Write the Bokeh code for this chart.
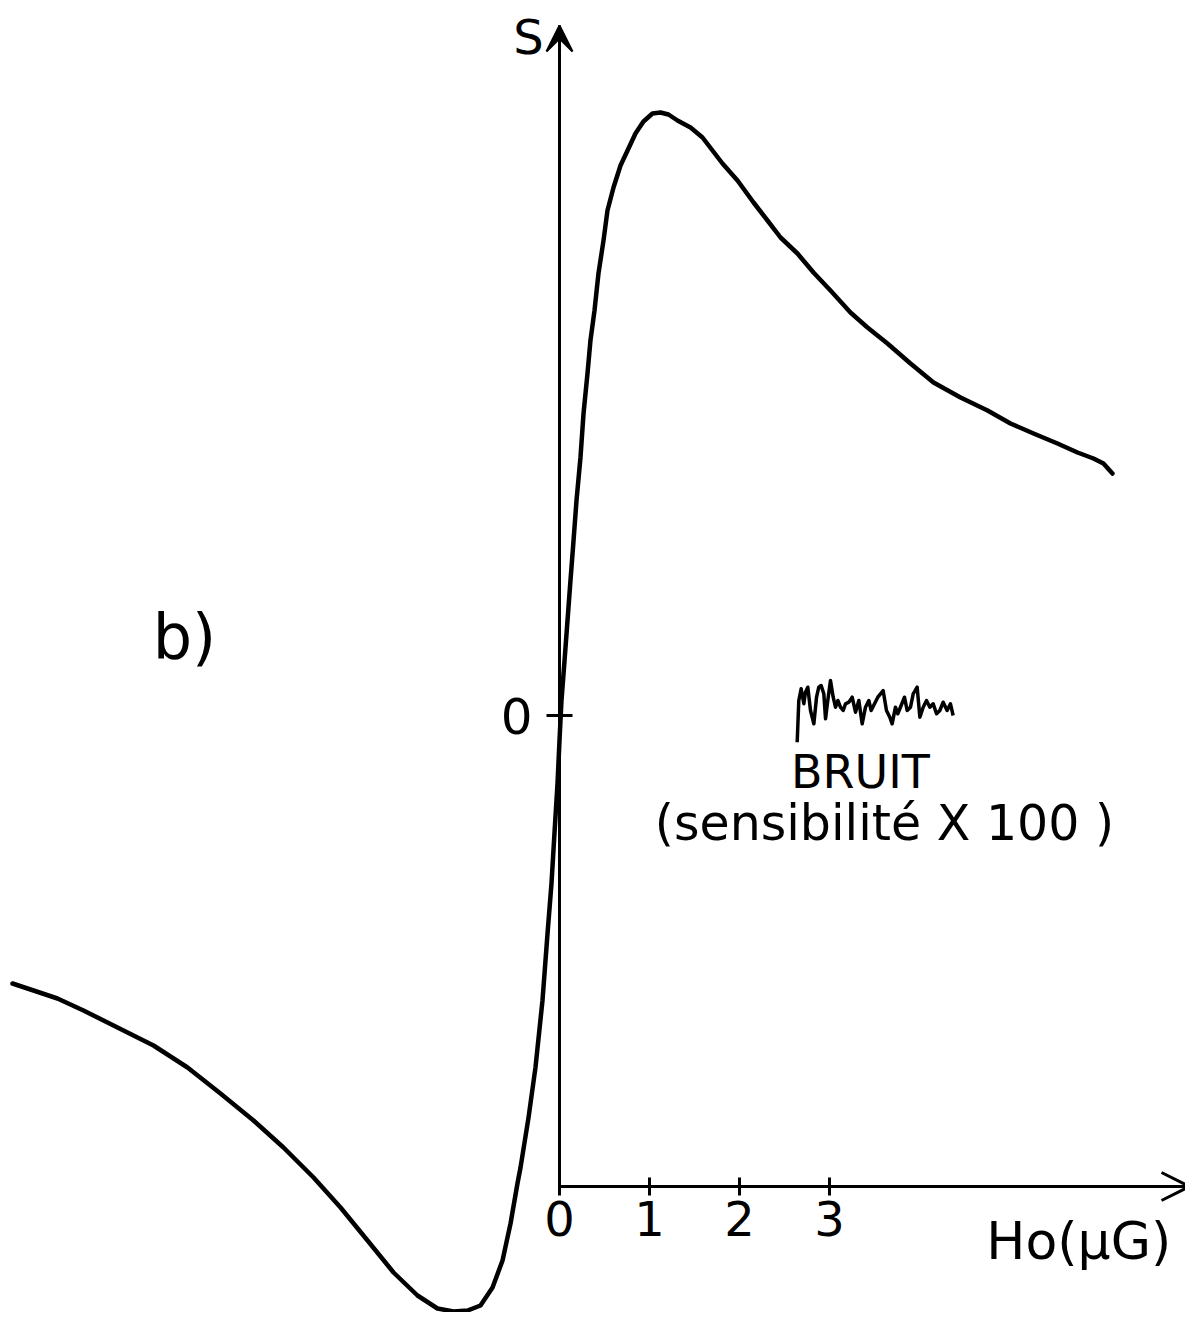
from bokeh.plotting import figure
from bokeh.models import Range1d, LinearAxis, FixedTicker, Arrow, VeeHead, OpenHead, Label
from bokeh.embed import file_html
from bokeh.resources import INLINE

# ---- data (Ho in µG, S in arbitrary units) ----
curve_h = [-6.078, -5.844, -5.578, -5.289, -4.911, -4.511, -4.133, -3.767, -3.400, -3.067,
           -2.733, -2.433, -2.133, -1.844, -1.578, -1.356, -1.178, -1.022, -0.878, -0.744,
           -0.633, -0.544, -0.467, -0.433, -0.344, -0.267, -0.189, -0.133, -0.089, -0.056,
           -0.022, 0.000, 0.022, 0.056, 0.089, 0.122, 0.156, 0.189, 0.233, 0.267,
           0.311, 0.344, 0.389, 0.433, 0.489, 0.533, 0.600, 0.678, 0.756, 0.844,
           0.933, 1.033, 1.122, 1.211, 1.311, 1.456, 1.589, 1.700, 1.811, 1.978,
           2.156, 2.311, 2.456, 2.644, 2.822, 3.011, 3.233, 3.422, 3.644, 3.900,
           4.156, 4.456, 4.756, 5.011, 5.267, 5.533, 5.756, 5.933, 6.044, 6.144]
curve_s = [-2.68, -2.75, -2.83, -2.95, -3.12, -3.30, -3.52, -3.78, -4.05, -4.32,
           -4.62, -4.92, -5.25, -5.57, -5.80, -5.93, -5.96, -5.95, -5.90, -5.72,
           -5.45, -5.08, -4.68, -4.52, -4.02, -3.52, -2.85, -2.18, -1.68, -1.18,
           -0.68, -0.25, 0.15, 0.55, 0.95, 1.35, 1.75, 2.15, 2.58, 3.02,
           3.42, 3.75, 4.05, 4.42, 4.75, 5.05, 5.28, 5.50, 5.65, 5.82,
           5.94, 6.02, 6.03, 6.01, 5.95, 5.88, 5.78, 5.65, 5.52, 5.35,
           5.13, 4.95, 4.78, 4.62, 4.43, 4.25, 4.03, 3.88, 3.72, 3.52,
           3.33, 3.18, 3.05, 2.92, 2.82, 2.72, 2.63, 2.57, 2.52, 2.42]

# noise trace "BRUIT" (sensitivity x 100), drawn in the same frame
noise_h = [2.641, 2.659, 2.685, 2.715, 2.733, 2.759, 2.789, 2.826, 2.856, 2.881,
           2.907, 2.937, 2.956, 2.981, 3.011, 3.041, 3.067, 3.093, 3.122, 3.152,
           3.178, 3.215, 3.252, 3.289, 3.326, 3.363, 3.400, 3.437, 3.463, 3.500,
           3.537, 3.567, 3.596, 3.633, 3.670, 3.696, 3.733, 3.759, 3.796, 3.833,
           3.863, 3.900, 3.930, 3.974, 4.004, 4.041, 4.078, 4.115, 4.152, 4.189,
           4.226, 4.263, 4.307, 4.344, 4.374]
noise_s = [-0.267, 0.150, 0.267, 0.117, 0.233, 0.283, 0.050, -0.083, 0.183, 0.283,
           0.300, 0.217, -0.033, 0.150, 0.350, 0.183, 0.083, 0.150, 0.083, 0.050,
           0.117, 0.133, 0.183, 0.033, 0.150, -0.083, 0.083, 0.150, 0.050, 0.117,
           0.183, 0.217, 0.250, 0.050, -0.017, -0.083, 0.083, 0.017, 0.100, 0.183,
           0.050, 0.083, 0.217, 0.283, -0.017, 0.083, 0.150, 0.083, 0.117, 0.017,
           0.050, 0.133, 0.050, 0.117, 0.000]

x_ticks = [0, 1, 2, 3]
y_ticks = [0]
x_axis_level = -4.71   # S level where the Ho axis is drawn
x_axis_end = 7.00
y_axis_end = 6.90

FONT = "DejaVu Sans"

p = figure(width=1185, height=1312,
           x_range=Range1d(-6.2111, 6.9556), y_range=Range1d(-5.97, 7.15),
           x_axis_type=None, y_axis_type=None,
           toolbar_location=None, output_backend="svg", min_border=0)
p.outline_line_color = None
p.background_fill_color = "white"
p.border_fill_color = "white"

# Ho axis
xa = LinearAxis(fixed_location=x_axis_level, bounds=(0, x_axis_end),
                ticker=FixedTicker(ticks=x_ticks, minor_ticks=[]))
xa.axis_line_width = 3
xa.axis_line_color = "black"
xa.major_tick_line_width = 3
xa.major_tick_line_color = "black"
xa.major_tick_in = 9
xa.major_tick_out = 9
xa.minor_tick_line_color = None
xa.major_label_text_font = FONT
xa.major_label_text_font_size = "48px"
xa.major_label_text_color = "black"
xa.major_label_standoff = 5
p.add_layout(xa, "below")

# S axis
ya = LinearAxis(fixed_location=0, bounds=(x_axis_level, y_axis_end),
                ticker=FixedTicker(ticks=y_ticks, minor_ticks=[]))
ya.axis_line_width = 3
ya.axis_line_color = "black"
ya.major_tick_line_width = 3
ya.major_tick_line_color = "black"
ya.major_tick_in = 13
ya.major_tick_out = 13
ya.minor_tick_line_color = None
ya.major_label_text_font = FONT
ya.major_label_text_font_size = "50px"
ya.major_label_text_color = "black"
ya.major_label_standoff = 14
ya.major_label_orientation = "horizontal"
p.add_layout(ya, "left")

# arrow heads
p.add_layout(Arrow(end=VeeHead(size=26, fill_color="black", line_color="black", line_width=2),
                   x_start=0, y_start=6.3, x_end=0, y_end=y_axis_end,
                   line_width=3, line_color="black"))
p.add_layout(Arrow(end=OpenHead(size=28, line_width=3, line_color="black"),
                   x_start=6.5, y_start=x_axis_level, x_end=x_axis_end, y_end=x_axis_level,
                   line_width=3, line_color="black"))

# curves
p.line(curve_h, curve_s, line_width=4.5, line_color="black", line_join="round", line_cap="round")
p.line(noise_h, noise_s, line_width=3.5, line_color="black", line_join="round")

# texts (centres)
p.add_layout(Label(x=-0.344, y=6.79, text="S", text_font=FONT, text_font_size="48px",
                   text_align="center", text_baseline="middle", text_color="black"))
p.add_layout(Label(x=5.77, y=-5.25, text="Ho(µG)", text_font=FONT, text_font_size="52px",
                   text_align="center", text_baseline="middle", text_color="black"))
p.add_layout(Label(x=-4.52, y=0.79, text="b)", text_font=FONT, text_font_size="62px",
                   text_align="left", text_baseline="middle", text_color="black"))
p.add_layout(Label(x=3.344, y=-0.56, text="BRUIT", text_font=FONT, text_font_size="46px",
                   text_align="center", text_baseline="middle", text_color="black"))
p.add_layout(Label(x=3.611, y=-1.08, text="(sensibilité X 100 )", text_font=FONT,
                   text_font_size="49px", text_align="center", text_baseline="middle",
                   text_color="black"))

open("out.html", "w").write(file_html(p, INLINE))
